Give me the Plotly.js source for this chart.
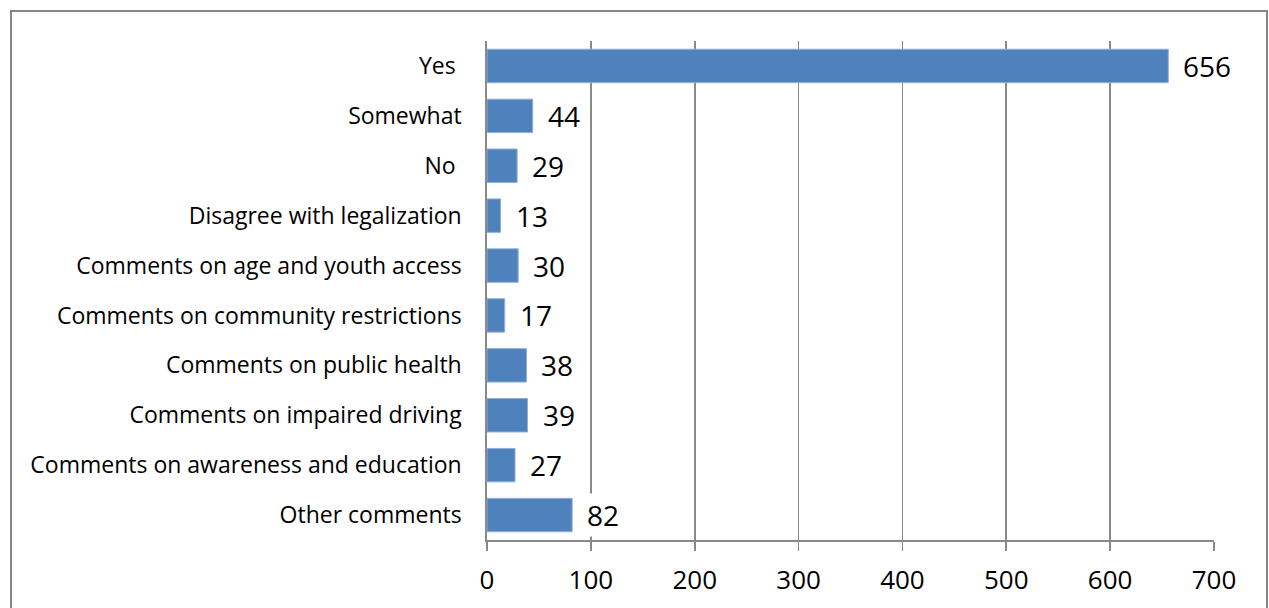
<!DOCTYPE html>
<html>
<head>
<meta charset="utf-8">
<script src="https://cdn.plot.ly/plotly-3.0.1.min.js"></script>
<style>html,body{margin:0;padding:0;background:#fff;}#chart{width:1269px;height:608px;}</style>
</head>
<body>
<div id="chart"></div>
<script>
const categories = [
  "Yes\u00a0",
  "Somewhat",
  "No\u00a0",
  "Disagree with legalization",
  "Comments on age and youth access",
  "Comments on community restrictions",
  "Comments on public health",
  "Comments on impaired driving",
  "Comments on awareness and education",
  "Other comments"
];
const values = [656, 44, 29, 13, 30, 17, 38, 39, 27, 82];
const xTicks = [0, 100, 200, 300, 400, 500, 600, 700];

const FONT = "'Open Sans', Lato, sans-serif";
const GRID = "#898989";

const trace = {
  type: "bar",
  orientation: "h",
  y: categories,
  x: values,
  marker: {color: "#4F81BD", line: {color: "#8fb0d8", width: 1}},
  hoverinfo: "none"
};

const annotations = values.map((v, i) => ({
  x: v, y: categories[i], xref: "x", yref: "y",
  text: String(v), showarrow: false,
  xanchor: "left", yanchor: "middle", xshift: 12,
  bgcolor: "#ffffff", borderpad: 2,
  font: {family: FONT, size: 28, color: "#000"}
}));

const layout = {
  width: 1269, height: 608,
  margin: {l: 487, r: 55, t: 41, b: 68},
  paper_bgcolor: "#fff", plot_bgcolor: "#fff",
  showlegend: false,
  bargap: 0.33,
  font: {family: FONT, color: "#000"},
  xaxis: {
    range: [0, 700],
    tickvals: xTicks,
    ticktext: xTicks.map(String),
    showgrid: true, gridcolor: GRID, gridwidth: 1.7,
    zeroline: false,
    showline: true, linecolor: GRID, linewidth: 1.7,
    ticks: "outside", ticklen: 9, tickcolor: GRID, tickwidth: 1.7,
    ticklabelstandoff: 7,
    tickfont: {family: FONT, size: 26, color: "#000"},
    fixedrange: true
  },
  yaxis: {
    autorange: "reversed",
    type: "category",
    showgrid: false, zeroline: false,
    showline: true, linecolor: GRID, linewidth: 1.7,
    ticks: "",
    ticklabelstandoff: 19,
    tickfont: {family: FONT, size: 23, color: "#000"},
    fixedrange: true
  },
  annotations: annotations,
  shapes: [{
    type: "rect", xref: "paper", yref: "paper",
    x0: (11 - 487) / 727, x1: (1267 - 487) / 727,
    y0: -0.3, y1: 1 + (41 - 11) / 499,
    line: {color: "#868686", width: 2}, fillcolor: "rgba(0,0,0,0)", layer: "below"
  }]
};

Plotly.newPlot("chart", [trace], layout, {displayModeBar: false, staticPlot: true});
</script>
</body>
</html>
